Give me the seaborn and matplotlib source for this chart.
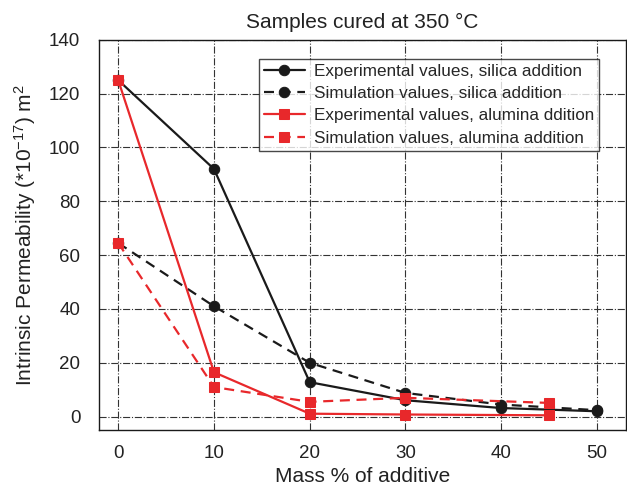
#Samples cured at 350 C - permeability vs additive
import numpy as np
import matplotlib
matplotlib.use("Agg")
import matplotlib.pyplot as plt
import seaborn as sns
import pandas as pd

#Data
mass_silica = [0, 10, 20, 30, 40, 50]
exp_silica = [125, 92, 12.8, 6.1, 3.2, 2.0]
sim_silica = [64.5, 41, 20, 8.8, 4.5, 2.4]
mass_alumina = [0, 10, 20, 30, 45]
exp_alumina = [125, 16.5, 1.1, 0.8, 0.5]
sim_alumina = [64.5, 11, 5.5, 7, 5.1]

labels = ["Experimental values, silica addition",
          "Simulation values, silica addition",
          "Experimental values, alumina ddition",
          "Simulation values, alumina addition"]

sns.set_style('white')
plt.rcParams['font.family'] = ['Liberation Sans', 'DejaVu Sans']
plt.rcParams['mathtext.fontset'] = 'custom'
plt.rcParams['mathtext.rm'] = 'Liberation Sans'
plt.rcParams['mathtext.it'] = 'Liberation Sans:italic'

black = '#1a1a1a'
red = '#e8282b'

fig = plt.figure(figsize=(6.27, 4.91), dpi=100)
ax = fig.add_axes([0.158, 0.124, 0.840, 0.795])

series = [(mass_silica, exp_silica, black, 'o', '-'),
          (mass_silica, sim_silica, black, 'o', (0, (4.5, 3))),
          (mass_alumina, exp_alumina, red, 's', '-'),
          (mass_alumina, sim_alumina, red, 's', (0, (4.5, 3)))]

for (x, y, c, m, ls), lab in zip(series, labels):
    sns.lineplot(x=x, y=y, ax=ax, color=c, marker=m, linestyle=ls, linewidth=1.6,
                 markersize=7.5, markeredgecolor=c, label=lab)

ax.set_xlim(-2, 53)
ax.set_ylim(-5, 140)
ax.set_xticks([0, 10, 20, 30, 40, 50])
ax.set_yticks(np.arange(0, 141, 20))
ax.grid(True, color='#333333', linestyle='-.', linewidth=0.8)
for s in ax.spines.values():
    s.set_color(black)
    s.set_linewidth(1.0)
ax.tick_params(axis='both', labelsize=13.5, direction='out', length=5.5, width=1, color=black, labelcolor='#222222')
ax.tick_params(axis='y', pad=8)
ax.tick_params(axis='x', pad=5.5)

ax.set_xlabel("Mass % of additive", fontsize=15, color='#222222', labelpad=3)
ax.set_ylabel(r"Intrinsic Permeability (*10$^{-17}$) m$^{2}$", fontsize=15, color='#222222', labelpad=8)
ax.set_title("Samples cured at 350 \u00b0C", fontsize=15, color='#222222', pad=8.5)

leg = ax.legend(loc='upper right', bbox_to_anchor=(0.949, 0.951), fontsize=12.3,
                frameon=True, fancybox=False, edgecolor=black, handlelength=2.4,
                handletextpad=0.5, borderpad=0.3, labelspacing=0.42, borderaxespad=0)
leg.get_frame().set_linewidth(1.0)

plt.savefig("out.png", dpi=100)
